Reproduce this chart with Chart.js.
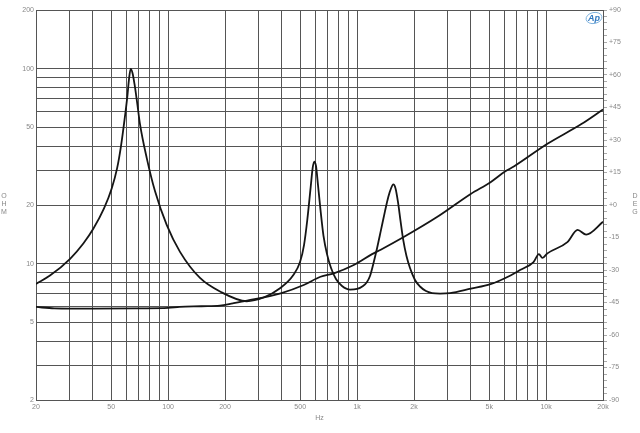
<!DOCTYPE html>
<html><head><meta charset="utf-8">
<script src="https://cdn.jsdelivr.net/npm/chart.js@4.4.1/dist/chart.umd.min.js"></script>
<style>html,body{margin:0;padding:0;background:#fff;} canvas{display:block;}</style>
</head><body>
<canvas id="c" width="640" height="433"></canvas>
<script>
// Tick values and labels
const freqTicks = [20,30,40,50,60,70,80,90,100,200,300,400,500,600,700,800,900,1000,2000,3000,4000,5000,6000,7000,8000,9000,10000,20000];
const freqLabels = {20:'20',50:'50',100:'100',200:'200',500:'500',1000:'1k',2000:'2k',5000:'5k',10000:'10k',20000:'20k'};
const ohmTicks = [2,3,4,5,6,7,8,9,10,20,30,40,50,60,70,80,90,100,200];
const ohmLabels = {2:'2',5:'5',10:'10',20:'20',50:'50',100:'100',200:'200'};
const degTicks = [];
for (let d = -90; d <= 90; d += 3) degTicks.push(d);
const degLabels = {'-90':'-90','-75':'-75','-60':'-60','-45':'-45','-30':'-30','-15':'-15','0':'+0','15':'+15','30':'+30','45':'+45','60':'+60','75':'+75','90':'+90'};

// Series: impedance curve with three resonances (Hz, ohm)
const freqA = [20, 23.7, 30.3, 35.6, 40.2, 45.8, 50.3, 53.7, 56.3, 58.8, 61.0, 62.1, 63.4, 64.8, 66.4, 68.5, 71.0, 77.1, 85.3, 98.3, 115.6, 147.5, 188.2, 260.5, 320, 391, 460, 499, 524, 545, 568, 582, 594, 606, 621, 642, 664, 693, 728, 773, 832, 917, 999, 1075, 1128, 1170, 1218, 1275, 1338, 1405, 1462, 1511, 1554, 1596, 1646, 1697, 1755, 1825, 1905, 2024, 2152, 2314, 2492, 2746, 3102, 4000, 5080, 6480, 7320, 8580, 9160, 9560, 10160, 12960, 14680, 16280, 20000];
const ohmA  = [7.87, 8.69, 10.6, 12.7, 15.1, 19.2, 24.3, 30.8, 40.0, 54.6, 73.7, 88.5, 99.7, 95.1, 83.5, 67.5, 52.0, 34.8, 23.5, 15.8, 11.5, 8.45, 7.2, 6.42, 6.71, 7.48, 8.75, 10.2, 12.5, 16.75, 24.7, 31.0, 33.4, 31.7, 25.3, 18.4, 13.9, 11.2, 9.5, 8.35, 7.69, 7.37, 7.42, 7.69, 8.06, 8.65, 9.97, 12.0, 14.9, 18.6, 22.0, 24.3, 25.5, 24.4, 20.7, 16.6, 13.2, 10.95, 9.5, 8.25, 7.64, 7.24, 7.07, 7.03, 7.07, 7.45, 7.85, 8.7, 9.3, 10.2, 11.2, 10.7, 11.3, 12.9, 14.9, 14.1, 16.4];
// Series: rising curve (Hz, ohm)
const freqB = [20, 25, 40, 70, 100, 115, 150, 188, 220, 262, 394, 522, 640, 753, 960, 1200, 1334, 1764, 2660, 3990, 5080, 6060, 6780, 10160, 15370, 20000];
const ohmB  = [6.0, 5.9, 5.88, 5.9, 5.93, 6.0, 6.05, 6.1, 6.26, 6.46, 7.05, 7.78, 8.57, 8.93, 9.85, 11.2, 11.8, 13.7, 17.4, 22.8, 26.2, 29.7, 31.6, 41.2, 52, 61.8];

const FONT = {size: 7, family: '"Liberation Sans", Arial, sans-serif'};
const TXT = '#888';
const GRID = '#555';

const sidePlugin = {
  id: 'side',
  afterDraw(chart) {
    const ctx = chart.ctx;
    ctx.save();
    ctx.font = '7px "Liberation Sans", Arial, sans-serif';
    ctx.fillStyle = TXT;
    ctx.textAlign = 'center';
    ctx.textBaseline = 'middle';
    const mid = (chart.chartArea.top + chart.chartArea.bottom) / 2;
    ['O','H','M'].forEach((c, i) => ctx.fillText(c, 4, mid - 9 + i * 8));
    ['D','E','G'].forEach((c, i) => ctx.fillText(c, 635, mid - 9 + i * 8));
    // Ap logo
    const lx = chart.chartArea.right - 9, ly = chart.chartArea.top + 8;
    ctx.strokeStyle = '#7fb2dd';
    ctx.lineWidth = 1;
    ctx.beginPath();
    ctx.ellipse(lx, ly, 8, 5.5, -0.2, 0, Math.PI * 2);
    ctx.stroke();
    ctx.fillStyle = '#2f78c0';
    ctx.font = 'italic bold 9px "Liberation Sans", Arial, sans-serif';
    ctx.fillText('Ap', lx, ly + 0.5);
    ctx.restore();
  }
};

new Chart(document.getElementById('c'), {
  type: 'line',
  data: {
    datasets: [
      {data: freqA.map((f, i) => ({x: f, y: ohmA[i]})), borderColor: '#151515', borderWidth: 1.8, pointRadius: 0, cubicInterpolationMode: 'monotone', yAxisID: 'y'},
      {data: freqB.map((f, i) => ({x: f, y: ohmB[i]})), borderColor: '#151515', borderWidth: 1.8, pointRadius: 0, cubicInterpolationMode: 'monotone', yAxisID: 'y'}
    ]
  },
  options: {
    responsive: false,
    animation: false,
    devicePixelRatio: 1,
    layout: {padding: {top: 10, left: 0, right: 0, bottom: 0}},
    plugins: {legend: {display: false}, tooltip: {enabled: false}},
    scales: {
      x: {
        type: 'logarithmic', position: 'bottom', min: 20, max: 20000,
        afterBuildTicks: s => { s.ticks = freqTicks.map(v => ({value: v})); },
        afterFit: s => { s.height = 33; },
        ticks: {autoSkip: false, maxRotation: 0, minRotation: 0, font: FONT, color: TXT, padding: 3,
          callback: v => freqLabels[v] ?? ''},
        grid: {color: GRID, lineWidth: 1, drawTicks: false},
        border: {color: GRID},
        title: {display: true, text: 'Hz', font: FONT, color: TXT, padding: {top: 0, bottom: 11}}
      },
      y: {
        type: 'logarithmic', position: 'left', min: 2, max: 200,
        afterBuildTicks: s => { s.ticks = ohmTicks.map(v => ({value: v})); },
        afterFit: s => { s.width = 36; },
        ticks: {autoSkip: false, font: FONT, color: TXT, padding: 2,
          callback: v => ohmLabels[v] ?? ''},
        grid: {color: GRID, lineWidth: 1, drawTicks: false},
        border: {color: GRID}
      },
      y2: {
        type: 'linear', position: 'right', min: -90, max: 90,
        afterBuildTicks: s => { s.ticks = degTicks.map(v => ({value: v})); },
        afterFit: s => { s.width = 37; },
        ticks: {autoSkip: false, font: FONT, color: TXT, padding: 2,
          callback: v => degLabels[String(v)] ?? ''},
        grid: {drawOnChartArea: false, drawTicks: true, tickLength: 4, tickColor: '#aaa', lineWidth: 1},
        border: {color: GRID}
      }
    }
  },
  plugins: [sidePlugin]
});
</script>
</body></html>
